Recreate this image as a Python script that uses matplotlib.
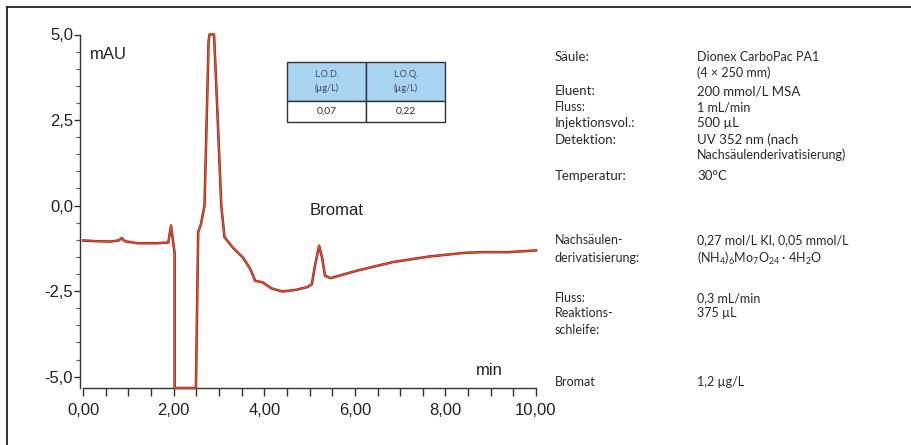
#!/usr/bin/env python3
# -*- coding: utf-8 -*-
# Chromatogram: Bromat with post-column derivatisation
import matplotlib
matplotlib.use('Agg')
import matplotlib.pyplot as plt
from matplotlib.ticker import MultipleLocator, FuncFormatter
from matplotlib.lines import Line2D

# trace (min, mAU); off-scale parts kept at the axis limits
time_min = [0.00, 0.30, 0.60, 0.78, 0.85, 0.92, 1.20, 1.60, 1.88, 1.94, 2.02,
            2.02, 2.49, 2.54, 2.60, 2.68, 2.77, 2.79, 2.89, 2.94, 3.05, 3.12,
            3.30, 3.53, 3.69, 3.80, 3.96, 4.16, 4.40, 4.71, 4.95, 5.05, 5.12,
            5.21, 5.28, 5.34, 5.46, 6.05, 6.84, 7.63, 8.42, 8.81, 9.40, 10.00]
signal_mau = [-1.02, -1.04, -1.05, -1.02, -0.95, -1.04, -1.10, -1.10, -1.08, -0.58, -1.40,
              -5.33, -5.33, -0.77, -0.55, 0.00, 4.80, 5.00, 5.00, 3.50, 0.00, -0.92,
              -1.22, -1.52, -1.85, -2.20, -2.24, -2.42, -2.51, -2.46, -2.38, -2.30, -1.75,
              -1.17, -1.55, -2.05, -2.12, -1.90, -1.65, -1.49, -1.38, -1.36, -1.36, -1.31]

lod_loq_header = ['L.O.D.\n(µg/L)', 'L.O.Q.\n(µg/L)']
lod_loq_values = ['0,07', '0,22']

cond_labels = [
    ('Säule:', 57, 9.5), ('Eluent:', 91, 9.5), ('Fluss:', 107, 9.0),
    ('Injektionsvol.:', 123, 9.5), ('Detektion:', 140, 9.5), ('Temperatur:', 176, 9.5),
    ('Nachsäulen-', 240, 9.0), ('derivatisierung:', 258, 9.0),
    ('Fluss:', 298, 9.0), ('Reaktions-', 313, 9.0), ('schleife:', 330, 9.0),
    ('Bromat', 382, 9.0),
]
cond_values = [
    ('Dionex CarboPac PA1', 57, 9.0), ('(4 × 250 mm)', 73, 9.0),
    ('200 mmol/L MSA', 91, 9.5), ('1 mL/min', 107, 9.0), ('500 µL', 123, 9.5),
    ('UV 352 nm (nach', 140, 9.5), ('Nachsäulenderivatisierung)', 155, 9.0),
    ('30°C', 176, 9.5),
    ('0,27 mol/L KI, 0,05 mmol/L', 240, 9.0),
    ('(NH$_4$)$_6$Mo$_7$O$_{24}$ · 4H$_2$O', 258, 9.0),
    ('0,3 mL/min', 298, 9.0), ('375 µL', 313, 9.0),
    ('1,2 µg/L', 382, 9.0),
]

W, H = 912, 445
plt.rcParams['mathtext.fontset'] = 'custom'
plt.rcParams['mathtext.rm'] = 'Lato'
plt.rcParams['mathtext.it'] = 'Lato:italic'

fig = plt.figure(figsize=(W / 100, H / 100), dpi=100)
fig.patch.set_facecolor('white')

# axes box in pixels: y axis at x=80, 10 min at x=536, 5.0 at y=34.5, x axis at y=388
ax = fig.add_axes([80 / W, (H - 388) / H, 456 / W, (388 - 34.5) / H])
ax.set_xlim(-0.07, 10.0)
ax.set_ylim(-5.33, 5.0)

ax.plot(time_min, signal_mau, color='#6b2417', lw=1.8, clip_on=False,
        solid_joinstyle='round', zorder=3)
ax.plot(time_min, signal_mau, color='#ef4b2f', lw=1.0, clip_on=False,
        solid_joinstyle='round', zorder=4)

for s in ['top', 'right']:
    ax.spines[s].set_visible(False)
for s in ['left', 'bottom']:
    ax.spines[s].set_color('#333333')
    ax.spines[s].set_linewidth(1.0)
ax.spines['bottom'].set_bounds(0, 10)

ax.xaxis.set_major_locator(MultipleLocator(2))
ax.xaxis.set_minor_locator(MultipleLocator(0.5))
ax.yaxis.set_major_locator(MultipleLocator(2.5))
ax.yaxis.set_minor_locator(MultipleLocator(0.5))
ax.xaxis.set_major_formatter(FuncFormatter(lambda v, p: ('%.2f' % v).replace('.', ',')))
ax.yaxis.set_major_formatter(FuncFormatter(lambda v, p: ('%.1f' % v).replace('.', ',')))
ax.tick_params(axis='x', which='both', direction='out', length=6, width=1,
               color='#333333', labelsize=12, pad=5)
ax.tick_params(axis='y', which='major', direction='out', length=4, width=1,
               color='#333333', labelsize=12, pad=1)
ax.tick_params(axis='y', which='minor', direction='out', length=3, width=0.8,
               color='#555555')
for lab in ax.get_xticklabels() + ax.get_yticklabels():
    lab.set_fontfamily('Liberation Sans')
    lab.set_color('#222222')

ax.text(0.15, 4.43, 'mAU', fontsize=12, family='Liberation Sans', color='#222222',
        ha='left', va='center')
ax.text(8.98, -4.83, 'min', fontsize=12, family='Liberation Sans', color='#222222',
        ha='center', va='center')
ax.text(5.59, -0.15, 'Bromat', fontsize=12, family='Liberation Sans', color='#222222',
        ha='center', va='center')

# LOD / LOQ table
tbl = ax.table(cellText=[lod_loq_header, lod_loq_values],
               cellColours=[['#a9d5f2', '#a9d5f2'], ['white', 'white']],
               cellLoc='center',
               bbox=[(287 - 80) / 456, (388 - 122) / 353.5, 158 / 456, 60 / 353.5])
tbl.auto_set_font_size(False)
for (r, c), cell in tbl.get_celld().items():
    cell.set_edgecolor('#333333')
    cell.set_linewidth(1.0)
    cell.set_height(39 if r == 0 else 21)
    cell.get_text().set_fontsize(6.5 if r == 0 else 7.5)
    cell.get_text().set_linespacing(1.6)
    cell.get_text().set_color('#3a4a5a' if r == 0 else '#333333')
    cell.get_text().set_fontfamily('Lato')

# conditions panel
for txt, y, fs in cond_labels:
    fig.text(555 / W, 1 - y / H, txt, fontsize=fs, family='Lato', color='#2a2a2a',
             ha='left', va='center')
for txt, y, fs in cond_values:
    fig.text(697 / W, 1 - y / H, txt, fontsize=fs, family='Lato', color='#2a2a2a',
             ha='left', va='center')

# picture frame (left and top edges only)
fig.add_artist(Line2D([7 / W, 7 / W], [0, 1 - 7 / H], transform=fig.transFigure,
                      color='#222222', lw=1.3))
fig.add_artist(Line2D([7 / W, 1], [1 - 7 / H, 1 - 7 / H], transform=fig.transFigure,
                      color='#222222', lw=1.3))

fig.savefig('out.png', dpi=100)
